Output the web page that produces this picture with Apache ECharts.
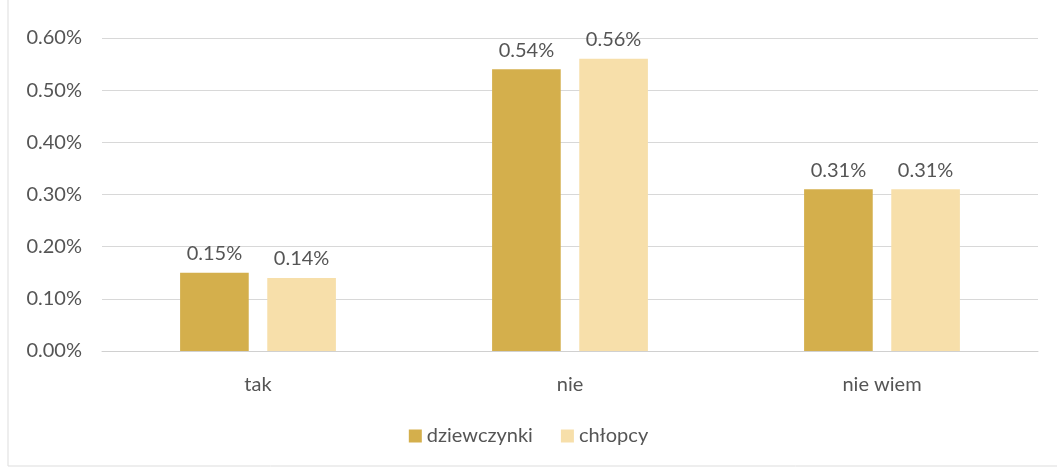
<!DOCTYPE html>
<html><head><meta charset="utf-8">
<script src="https://cdn.jsdelivr.net/npm/echarts@6/dist/echarts.min.js"></script>
<style>html,body{margin:0;padding:0;background:#fff}#c{width:1057px;height:469px}</style>
</head><body><div id="c"></div>
<script>
const categories = ['tak', 'nie', 'nie wiem'];
const seriesNames = ['dziewczynki', 'chłopcy'];
const dziewczynki = [0.15, 0.54, 0.31];
const chlopcy = [0.14, 0.56, 0.31];
const yTicks = [0, 0.1, 0.2, 0.3, 0.4, 0.5, 0.6];

const chart = echarts.init(document.getElementById('c'));
const font = 'Lato, "Open Sans", sans-serif';
const labelCfg = {show: true, position: 'top', distance: 9, color: '#555', fontSize: 20, fontFamily: font,
  formatter: p => p.value.toFixed(2) + '%'};
chart.setOption({
  animation: false,
  textStyle: {fontFamily: font},
  graphic: [{type: 'rect', shape: {x: 8, y: -2, width: 1060, height: 468}, style: {fill: 'none', stroke: '#ddd', lineWidth: 1}, silent: true}],
  grid: {left: 102, right: 19, top: 38, bottom: 118, containLabel: false},
  legend: {data: seriesNames, bottom: 18, left: 'center', itemWidth: 13, itemHeight: 13, itemGap: 28,
    icon: 'rect', textStyle: {color: '#555', fontSize: 20, fontFamily: font}},
  xAxis: {type: 'category', data: categories,
    axisLine: {show: true, lineStyle: {color: '#d0d0d0'}}, axisTick: {show: false},
    axisLabel: {color: '#555', fontSize: 20, margin: 24, fontFamily: font}},
  yAxis: {type: 'value', min: yTicks[0], max: yTicks[yTicks.length - 1], interval: 0.1,
    axisLine: {show: false}, axisTick: {show: false},
    splitLine: {lineStyle: {color: '#d8d8d8'}},
    axisLabel: {color: '#555', fontSize: 20, margin: 20, fontFamily: font, formatter: v => v.toFixed(2) + '%'}},
  series: [
    {name: seriesNames[0], type: 'bar', data: dziewczynki, barWidth: '22%', barGap: '27%',
      itemStyle: {color: '#D4AF4C'}, label: labelCfg},
    {name: seriesNames[1], type: 'bar', data: chlopcy, barWidth: '22%', barGap: '27%',
      itemStyle: {color: '#F7DFAA'}, label: labelCfg}
  ]
});
</script></body></html>
